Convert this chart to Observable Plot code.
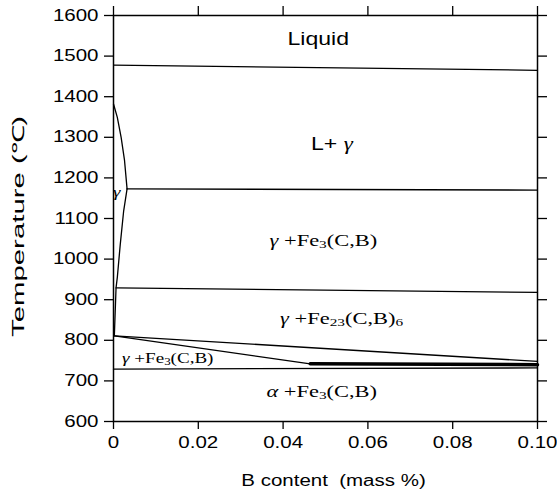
<!DOCTYPE html>
<html>
<head>
<meta charset="utf-8">
<script src="https://cdn.jsdelivr.net/npm/d3@7"></script>
<script src="https://cdn.jsdelivr.net/npm/@observablehq/plot@0.6"></script>
<style>
  body { margin: 0; background: white; }
</style>
</head>
<body>
<div id="chart"></div>
<script>
// Axis ticks and labels
const xTicks = [0, 0.02, 0.04, 0.06, 0.08, 0.10];
const xTickLabels = ["0", "0.02", "0.04", "0.06", "0.08", "0.10"];
const yTicks = [600, 700, 800, 900, 1000, 1100, 1200, 1300, 1400, 1500, 1600];
const yTickLabels = ["600", "700", "800", "900", "1000", "1100", "1200", "1300", "1400", "1500", "1600"];
const xLabel = "B content\u00a0 (mass %)";
const yLabel = "Temperature (\u2103)";

// Phase boundaries: [B mass %, temperature °C]
const liquidus = [[0, 1478], [0.1, 1465]];
const gammaSolidus = [[0, 1382], [0.0009, 1349], [0.0018, 1300], [0.0026, 1243], [0.0032, 1173]];
const gammaSolvus = [[0.0032, 1173], [0.0024, 1119], [0.0016, 1037], [0.0009, 955], [0.0006, 929], [0.0002, 811]];
const eutecticLine = [[0.0032, 1173], [0.1, 1170]];
const line920 = [[0.0006, 929], [0.1, 918]];
const upperDiag = [[0.0002, 811], [0.1, 748]];
const lowerDiag = [[0.0002, 811], [0.0464, 742]];
const band740 = [[0.0464, 742], [0.1, 740]];
const eutectoid = [[0, 729], [0.1, 732]];

// Region labels
const sansNames = ["Liquid", "L+ γ"];
const sansX = [0.0483, 0.0515];
const sansT = [1541, 1284];
const fieldNames = ["γ +Fe₃(C,B)", "γ +Fe₂₃(C,B)₆", "α +Fe₃(C,B)"];
const fieldX = [0.0495, 0.0538, 0.0491];
const fieldT = [1045, 853, 673];
const minorNames = ["γ", "γ +Fe₃(C,B)"];
const minorX = [0.00075, 0.0128];
const minorT = [1164, 754];

const boundaries = { liquidus, gammaSolidus, gammaSolvus, eutecticLine, line920, upperDiag, lowerDiag, eutectoid };
const lineRows = Object.entries(boundaries).flatMap(([id, pts]) => pts.map(([b, t]) => ({id, b, t})));
const bandRows = band740.map(([b, t]) => ({b, t}));
const mk = (names, xs, ts) => names.map((name, i) => ({name, b: xs[i], t: ts[i]}));

const plot = Plot.plot({
  width: 557,
  height: 497,
  marginLeft: 113,
  marginRight: 20,
  marginTop: 15,
  marginBottom: 76,
  style: { fontFamily: "Liberation Sans", fontSize: "16px", background: "white", overflow: "visible" },
  x: { domain: [0, 0.1] },
  y: { domain: [600, 1600] },
  marks: [
    Plot.line(lineRows, { x: "b", y: "t", z: "id", stroke: "black", strokeWidth: 1.3 }),
    Plot.line(bandRows, { x: "b", y: "t", stroke: "black", strokeWidth: 3.5 }),
    Plot.frame({ stroke: "black", strokeWidth: 1.5 }),
    Plot.axisX({ anchor: "bottom", ticks: xTicks, tickFormat: d => xTickLabels[xTicks.indexOf(d)], tickSize: 8, tickPadding: 7, label: null, fontSize: 16, strokeWidth: 1.3 }),
    Plot.axisX({ anchor: "top", ticks: xTicks, tickFormat: () => "", tickSize: 10, label: null, strokeWidth: 1.3 }),
    Plot.axisY({ anchor: "left", ticks: yTicks, tickFormat: d => yTickLabels[yTicks.indexOf(d)], tickSize: 9, tickPadding: 6, label: null, fontSize: 16, strokeWidth: 1.3 }),
    Plot.axisY({ anchor: "right", ticks: yTicks, tickFormat: () => "", tickSize: 9, label: null, strokeWidth: 1.3 }),
    Plot.text([xLabel], { frameAnchor: "bottom", textAnchor: "middle", lineAnchor: "bottom", text: d => d, dx: 8, dy: 64, fontSize: 16, fill: "black" }),
    Plot.text([yLabel], { frameAnchor: "left", textAnchor: "middle", lineAnchor: "middle", text: d => d, rotate: -90, dx: -95, dy: 8, fontSize: 16.5, fill: "black" }),
    Plot.text(mk(sansNames, sansX, sansT), { x: "b", y: "t", text: "name", fontSize: 18, fill: "black" }),
    Plot.text(mk(fieldNames, fieldX, fieldT), { x: "b", y: "t", text: "name", fontSize: 16.5, fontFamily: "Liberation Serif", fill: "black" }),
    Plot.text(mk(minorNames, minorX, minorT), { x: "b", y: "t", text: "name", fontSize: 14, fontFamily: "Liberation Serif", fill: "black" })
  ]
});

document.getElementById("chart").appendChild(plot);

// Rich text: italic Greek letters, subscript digits
const NS = "http://www.w3.org/2000/svg";
function richify(el) {
  const s = el.textContent;
  if (!/[γα₀-₉]/.test(s)) return;
  const runs = s.match(/[γα]+|[₀-₉]+|[^γα₀-₉]+/g);
  el.textContent = "";
  let shifted = false;
  for (const r of runs) {
    const t = document.createElementNS(NS, "tspan");
    if (/[γα]/.test(r)) {
      t.textContent = r;
      t.setAttribute("font-style", "italic");
      t.setAttribute("font-family", "Liberation Serif");
      if (shifted) { t.setAttribute("dy", "-2"); shifted = false; }
    } else if (/[₀-₉]/.test(r)) {
      t.textContent = r.replace(/[₀-₉]/g, c => String.fromCharCode(c.charCodeAt(0) - 0x2080 + 48));
      t.setAttribute("font-size", "0.68em");
      if (!shifted) { t.setAttribute("dy", "2"); shifted = true; }
    } else {
      t.textContent = r;
      if (shifted) { t.setAttribute("dy", "-2"); shifted = false; }
    }
    el.appendChild(t);
  }
}
// Horizontally stretched lettering, as in the scanned figure
for (const el of plot.querySelectorAll("text")) {
  richify(el);
  const len = el.getComputedTextLength();
  if (!len) continue;
  const fam = getComputedStyle(el).fontFamily || "";
  let f = /Serif/.test(fam) ? 1.36 : 1.28;
  if (el.textContent === yLabel) f = 1.78;
  el.setAttribute("textLength", (len * f).toFixed(1));
  el.setAttribute("lengthAdjust", "spacingAndGlyphs");
}
</script>
</body>
</html>
